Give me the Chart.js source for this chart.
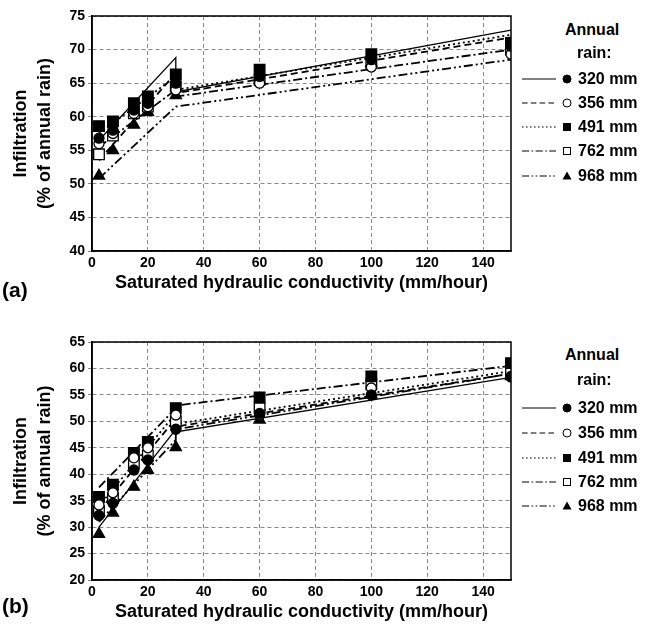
<!DOCTYPE html>
<html>
<head>
<meta charset="utf-8">
<script src="https://cdn.jsdelivr.net/npm/chart.js@4.4.1/dist/chart.umd.min.js"></script>
<style>
  body { margin: 0; background: #fff; font-family: "Liberation Sans", Arial, sans-serif; }
  #wrap { position: relative; width: 657px; height: 630px; overflow: hidden; }
  .box { position: absolute; left: 0; width: 525px; height: 300px; }
  .panel { position: absolute; left: 2px; font-weight: bold; font-size: 21px; }
  .legend { position: absolute; left: 520px; width: 137px; font-weight: bold; font-size: 16px; }
  .legend .ttl { position: absolute; white-space: nowrap; }
  .legend .row { position: absolute; left: 0; height: 20px; display: flex; align-items: center; white-space: nowrap; }
  .legend svg { margin-right: 4px; }
</style>
</head>
<body>
<div id="wrap">
  <div class="box" style="top:0"><canvas id="chartA"></canvas></div>
  <div class="box" style="top:326px"><canvas id="chartB"></canvas></div>
  <div class="panel" style="top:278px">(a)</div>
  <div class="panel" style="top:594px">(b)</div>
  <div class="legend" id="legendA" style="top:0"></div>
  <div class="legend" id="legendB" style="top:326px"></div>
</div>
<script>
// Verzadigde doorlatendheid (mm/uur) en jaarlijkse regen
const ksValues = [2.5, 7.5, 15, 20, 30, 60, 100, 150];
const rainLabels = ['320 mm', '356 mm', '491 mm', '762 mm', '968 mm'];
const xTicks = [0, 20, 40, 60, 80, 100, 120, 140];

// Paneel (a): infiltratie in % van de jaarlijkse regen
const a320 = [56.8, 58.0, 61.0, 62.0, 65.0, 66.0, 68.5, 70.5];
const a356 = [56.0, 57.5, 60.5, 61.5, 64.0, 65.0, 67.4, 69.3];
const a491 = [58.6, 59.3, 62.0, 63.0, 66.3, 67.0, 69.3, 71.0];
const a762 = [54.4, 57.2, 60.5, 61.5, 64.5, 65.5, 68.0, 70.0];
const a968 = [51.2, 55.0, 58.8, 60.7, 63.2, 65.5, 68.0, 70.5];

// Paneel (b)
const b320 = [32.2, 34.5, 40.8, 42.7, 48.5, 51.5, 55.0, 58.5];
const b356 = [34.2, 36.5, 43.1, 45.0, 51.2, 51.2, 56.3, 58.4];
const b491 = [35.7, 38.0, 44.0, 46.1, 52.5, 54.5, 58.5, 61.0];
const b762 = [33.0, 35.5, 42.0, 43.5, 50.0, 52.5, 57.0, 59.5];
const b968 = [28.7, 32.7, 37.6, 40.8, 45.1, 50.3, 55.0, 58.5];

// Gefitte lijnen: twee segmenten (2.5-30 en 30-150)
const fitX = [2.5, 30, 30, 150];
const fitA320 = [56.5, 68.8, 63.7, 72.9];
const fitA356 = [53.5, 66.5, 63.5, 71.8];
const fitA491 = [57.5, 66.0, 64.0, 72.2];
const fitA762 = [55.5, 64.0, 63.0, 70.0];
const fitA968 = [50.8, 61.5, 61.5, 68.5];
const fitB320 = [30.0, 48.5, 48.0, 58.3];
const fitB356 = [33.0, 50.5, 49.0, 59.0];
const fitB491 = [34.0, 51.5, 49.5, 59.5];
const fitB762 = [37.5, 52.5, 53.0, 60.5];
const fitB968 = [31.0, 46.5, 48.5, 59.0];

// Stijlen per serie
const lineDashes = [[], [7, 4], [2, 3], [9, 3, 2, 3], [9, 3, 2, 3, 2, 3]];
const markerStyles = ['circle', 'circle', 'rect', 'rect', 'triangle'];
const markerFill = ['#000', '#fff', '#000', '#fff', '#000'];
const markerRadius = [5, 5, 7.5, 7.5, 6.5];

function toPoints(xs, ys) {
    return xs.map((x, i) => ({ x: x, y: ys[i] }));
}

// Kader rond het plotgebied
const frame = {
    id: 'frame',
    afterDraw(chart) {
        const a = chart.chartArea;
        const ctx = chart.ctx;
        ctx.save();
        ctx.strokeStyle = '#000';
        ctx.lineWidth = 1.5;
        ctx.strokeRect(a.left, a.top, a.right - a.left, a.bottom - a.top);
        ctx.restore();
    }
};

function makeChart(id, pointSets, fitSets, yMin, yMax, padBottom) {
    const datasets = [];
    pointSets.forEach((ys, i) => {
        datasets.push({
            label: rainLabels[i],
            data: toPoints(ksValues, ys),
            showLine: false,
            pointStyle: markerStyles[i],
            pointRadius: markerRadius[i],
            pointBackgroundColor: markerFill[i],
            pointBorderColor: '#000',
            pointBorderWidth: 1.3,
            order: 0
        });
    });
    fitSets.forEach((ys, i) => {
        datasets.push({
            label: rainLabels[i] + ' fit',
            data: toPoints(fitX, ys),
            showLine: true,
            borderColor: '#000',
            borderWidth: i === 0 ? 1.3 : 1.8,
            borderDash: lineDashes[i],
            pointRadius: 0,
            tension: 0,
            order: 1
        });
    });

    const tickFont = { family: '"Liberation Sans", Arial, sans-serif', size: 14, weight: 'bold' };
    const titleFont = { family: '"Liberation Sans", Arial, sans-serif', size: 18, weight: 'bold' };

    return new Chart(document.getElementById(id).getContext('2d'), {
        type: 'scatter',
        data: { datasets: datasets },
        options: {
            responsive: true,
            maintainAspectRatio: false,
            animation: false,
            layout: { padding: { top: 16, left: 6, right: 14, bottom: padBottom } },
            plugins: { legend: { display: false }, tooltip: { enabled: false } },
            scales: {
                x: {
                    type: 'linear',
                    min: 0,
                    max: 150,
                    afterBuildTicks(scale) {
                        scale.ticks = xTicks.map(v => ({ value: v }));
                    },
                    afterFit(scale) { scale.height = 43; },
                    ticks: { autoSkip: false, maxRotation: 0, color: '#000', font: tickFont, padding: 4 },
                    grid: { color: '#888', lineWidth: 1, drawTicks: false },
                    border: { display: true, color: '#000', width: 1.5, dash: [4, 3] },
                    title: {
                        display: true,
                        text: 'Saturated hydraulic conductivity (mm/hour)',
                        color: '#000',
                        font: titleFont,
                        padding: { top: 0, bottom: 0 }
                    }
                },
                y: {
                    min: yMin,
                    max: yMax,
                    afterFit(scale) { scale.width = 86; },
                    ticks: { stepSize: 5, autoSkip: false, color: '#000', font: tickFont, padding: 3 },
                    grid: { color: '#888', lineWidth: 1, tickLength: 4 },
                    border: { display: true, color: '#000', width: 1.5, dash: [4, 3] },
                    title: {
                        display: true,
                        text: ['Infiltration', '(% of annual rain)'],
                        color: '#000',
                        font: Object.assign({ lineHeight: 1.28 }, titleFont),
                        padding: { top: 4, bottom: 0 }
                    }
                }
            }
        },
        plugins: [frame]
    });
}

// Legenda met lijnstijl en marker
function buildLegend(id, titleTops, rowTops) {
    const el = document.getElementById(id);
    let html = '<div class="ttl" style="left:45px;top:' + titleTops[0] + 'px">Annual</div>' +
               '<div class="ttl" style="left:57px;top:' + titleTops[1] + 'px">rain:</div>';
    rainLabels.forEach((lab, i) => {
        const dash = lineDashes[i].length ? lineDashes[i].map(v => v * 0.8).join(',') : 'none';
        let marker;
        if (markerStyles[i] === 'circle') {
            marker = '<circle cx="47" cy="10" r="4" fill="' + markerFill[i] + '" stroke="#000" stroke-width="1"/>';
        } else if (markerStyles[i] === 'rect') {
            marker = '<rect x="43.5" y="6.5" width="7" height="7" fill="' + markerFill[i] + '" stroke="#000" stroke-width="1"/>';
        } else {
            marker = '<polygon points="47,5.5 51.5,13.5 42.5,13.5" fill="#000"/>';
        }
        html += '<div class="row" style="top:' + rowTops[i] + 'px">' +
            '<svg width="54" height="20"><line x1="2" y1="10" x2="36" y2="10" stroke="#000" stroke-width="1" stroke-dasharray="' + dash + '"/>' +
            marker + '</svg>' + lab + '</div>';
    });
    el.innerHTML = html;
}

makeChart('chartA', [a320, a356, a491, a762, a968], [fitA320, fitA356, fitA491, fitA762, fitA968], 40, 75, 6);
makeChart('chartB', [b320, b356, b491, b762, b968], [fitB320, fitB356, fitB491, fitB762, fitB968], 20, 65, 3);
buildLegend('legendA', [21, 44], [69, 93, 117, 141, 166]);
buildLegend('legendB', [20, 45], [72, 97, 122, 146, 170]);
</script>
</body>
</html>
